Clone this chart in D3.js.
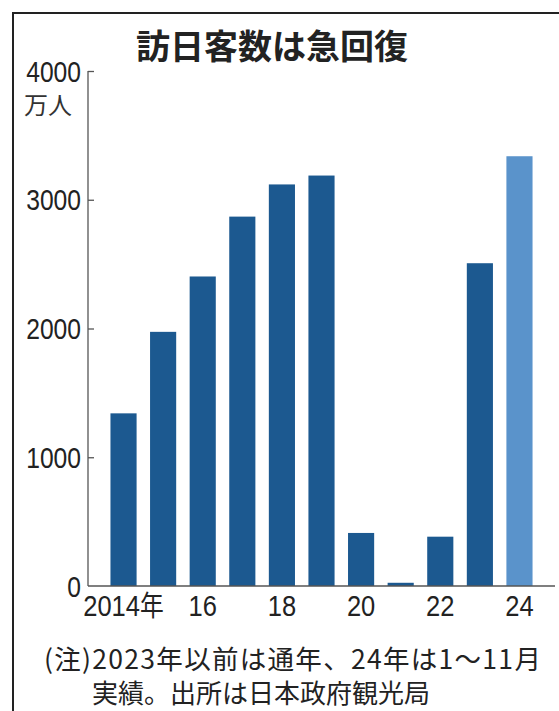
<!DOCTYPE html>
<html><head><meta charset="utf-8">
<script src="https://cdn.jsdelivr.net/npm/d3@7"></script>
<style>
html,body{margin:0;padding:0;background:#fff;}
svg{display:block;}
.num{font-family:"Liberation Sans","Noto Sans",sans-serif;}
.jp{font-family:"Noto Sans CJK JP","Noto Sans",sans-serif;}
</style></head>
<body>
<svg id="c" width="559" height="711"></svg>
<script>
const years = ["2014","2015","2016","2017","2018","2019","2020","2021","2022","2023","2024"];
const visitors = [1341, 1974, 2404, 2869, 3119, 3188, 412, 25, 383, 2507, 3338];
const partial = [false,false,false,false,false,false,false,false,false,false,true];
const xTickLabels = {"2014":"2014年","2016":"16","2018":"18","2020":"20","2022":"22","2024":"24"};
const yTicks = [0, 1000, 2000, 3000, 4000];
const title = "訪日客数は急回復";
const unit = "万人";
const notes = ["(注)2023年以前は通年、24年は1～11月", "実績。出所は日本政府観光局"];

const svg = d3.select("#c");
const darkBlue = "#1c5990", lightBlue = "#5a93cb";

// frame
svg.append("path").attr("d","M13,711 V13 H559").attr("fill","none").attr("stroke","#222").attr("stroke-width",2);

const x = d3.scaleBand().domain(years).range([97,546]).paddingInner(0.34).paddingOuter(0.34);
const y = d3.scaleLinear().domain([0,4000]).range([586,71]);

// bars
svg.append("g").selectAll("rect").data(years).join("rect")
  .attr("x", d=>x(d)).attr("width", x.bandwidth())
  .attr("y", (d,i)=>y(visitors[i])).attr("height",(d,i)=>y(0)-y(visitors[i]))
  .attr("fill",(d,i)=>partial[i]?lightBlue:darkBlue);

// y axis
const yAxis = svg.append("g").attr("transform","translate(88,0)")
  .call(d3.axisRight(y).tickValues(yTicks).tickSize(6).tickFormat(""));
yAxis.select(".domain").attr("stroke","#555").attr("stroke-width",1.3).attr("d","M0,"+y(4000)+"V"+y(0));
yAxis.selectAll(".tick line").attr("stroke","#555").attr("stroke-width",1.3);
yAxis.selectAll(".tick").filter(d=>d===0).remove();
svg.append("g").selectAll("text").data(yTicks).join("text")
  .attr("class","num").attr("text-anchor","end").attr("font-size",29).attr("fill","#222")
  .attr("transform",d=>"translate(81,"+(y(d)+10.5)+") scale(0.85,1)").text(d=>d);
svg.append("text").attr("class","jp").attr("x",48).attr("y",114).attr("text-anchor","middle")
  .attr("font-size",24).attr("fill","#333").text(unit);

// x axis
const xAxis = svg.append("g").attr("transform","translate(0,"+y(0)+")")
  .call(d3.axisBottom(x).tickSize(0).tickFormat(""));
xAxis.select(".domain").attr("stroke","#555").attr("stroke-width",1.3).attr("d","M88,0H555");
svg.append("g").selectAll("text").data(years.filter(d=>xTickLabels[d])).join("text")
  .attr("class","num").attr("text-anchor","middle").attr("font-size",30).attr("fill","#222")
  .attr("transform",d=>"translate("+(x(d)+x.bandwidth()/2)+",616) scale(0.85,1)")
  .each(function(d){
    const t=d3.select(this); const s=xTickLabels[d];
    if(s.endsWith("年")){ t.append("tspan").text(s.slice(0,-1)); t.append("tspan").attr("class","jp").attr("font-size",28).text("年"); }
    else t.text(s);
  });

// title
svg.append("text").attr("class","jp").attr("x",272).attr("y",59).attr("text-anchor","middle")
  .attr("font-size",34).attr("font-weight","bold").attr("fill","#222").text(title);

// notes
svg.append("text").attr("class","jp").attr("font-size",26.5).attr("fill","#222")
  .attr("letter-spacing",1.3).attr("x",44).attr("y",669).text(notes[0]);
svg.append("text").attr("class","jp").attr("font-size",26).attr("fill","#222")
  .attr("x",92).attr("y",703).text(notes[1]);
</script>
</body></html>
